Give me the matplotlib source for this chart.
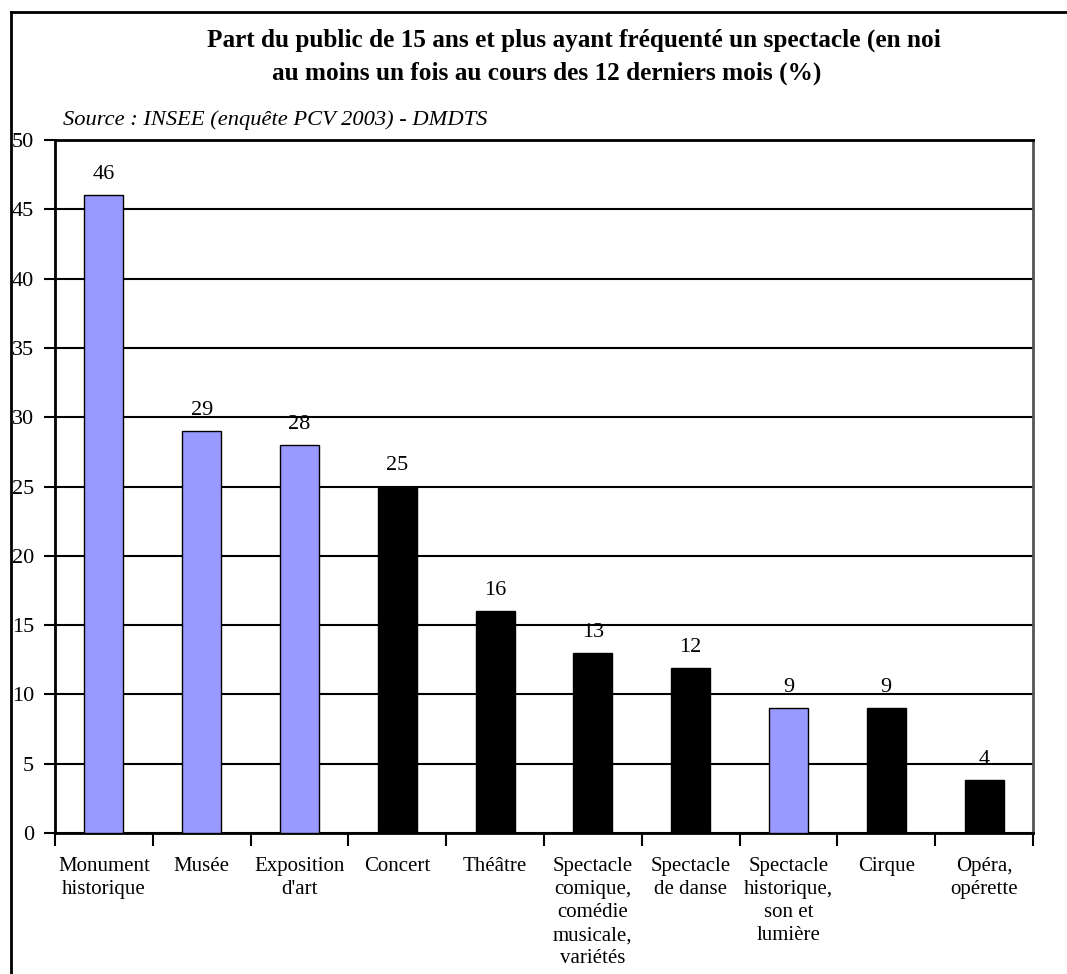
import matplotlib
matplotlib.use("Agg")
import matplotlib.pyplot as plt
from matplotlib.lines import Line2D
import numpy as np

categories = [
    "Monument\nhistorique",
    "Musée",
    "Exposition\nd'art",
    "Concert",
    "Théâtre",
    "Spectacle\ncomique,\ncomédie\nmusicale,\nvariétés",
    "Spectacle\nde danse",
    "Spectacle\nhistorique,\nson et\nlumière",
    "Cirque",
    "Opéra,\nopérette",
]
values = [46, 29, 28, 25, 16, 13, 11.9, 9, 9, 3.8]
is_visit = [True, True, True, False, False, False, False, True, False, False]

BLUE = "#9999FF"
W, H = 1067, 974

plt.rcParams["font.family"] = ["Liberation Serif", "DejaVu Serif"]

fig = plt.figure(figsize=(W / 100, H / 100), dpi=100)
ax = fig.add_axes([55 / W, 1 - 833 / H, (1033 - 55) / W, (833 - 140) / H])

x = np.arange(len(categories))
colors = [BLUE if v else "black" for v in is_visit]
bars = ax.bar(x, values, width=0.4, color=colors, edgecolor="black", linewidth=1, zorder=3)

for b, v in zip(bars, values):
    ax.annotate(f"{v:.0f}", (b.get_x() + b.get_width() / 2, b.get_height()),
                xytext=(0, 8), textcoords="offset points",
                ha="center", va="bottom", fontsize=16, zorder=4)

ax.set_xlim(-0.5, len(categories) - 0.5)
ax.set_ylim(0, 50)
ax.set_yticks(range(0, 51, 5))
ax.yaxis.grid(True, color="black", linewidth=1.5, zorder=1)
ax.tick_params(axis="y", direction="out", length=8, width=1.5, labelsize=16, pad=7)

# ticks between categories, labels at centres
ax.set_xticks(np.arange(-0.5, len(categories), 1))
ax.set_xticklabels([])
ax.set_xticks(x, minor=True)
ax.set_xticklabels(categories, minor=True, fontsize=15, linespacing=1.3, va="top")
ax.tick_params(axis="x", which="major", direction="out", length=9, width=1.5)
ax.tick_params(axis="x", which="minor", length=0, pad=17)

for side in ["left", "bottom", "top"]:
    ax.spines[side].set_linewidth(2)
    ax.spines[side].set_color("black")
ax.spines["right"].set_linewidth(2)
ax.spines["right"].set_color("#555555")

fig.text(207 / W, 1 - 40 / H,
         "Part du public de 15 ans et plus ayant fréquenté un spectacle (en noi",
         ha="left", va="center", fontsize=18.2, fontweight="bold")
fig.text(547 / W, 1 - 73 / H,
         "au moins un fois au cours des 12 derniers mois (%)",
         ha="center", va="center", fontsize=18.2, fontweight="bold")
fig.text(63 / W, 1 - 120 / H, "Source : INSEE (enquête PCV 2003) - DMDTS",
         ha="left", va="center", fontsize=16.2, style="italic")

# outer frame of the original chart, cut at the right and bottom
fig.add_artist(Line2D([11 / W, 11 / W], [0, 1 - 12 / H], transform=fig.transFigure,
                      color="black", linewidth=2))
fig.add_artist(Line2D([11 / W, 1], [1 - 12 / H, 1 - 12 / H], transform=fig.transFigure,
                      color="black", linewidth=2))

fig.savefig("out.png", dpi=100)
